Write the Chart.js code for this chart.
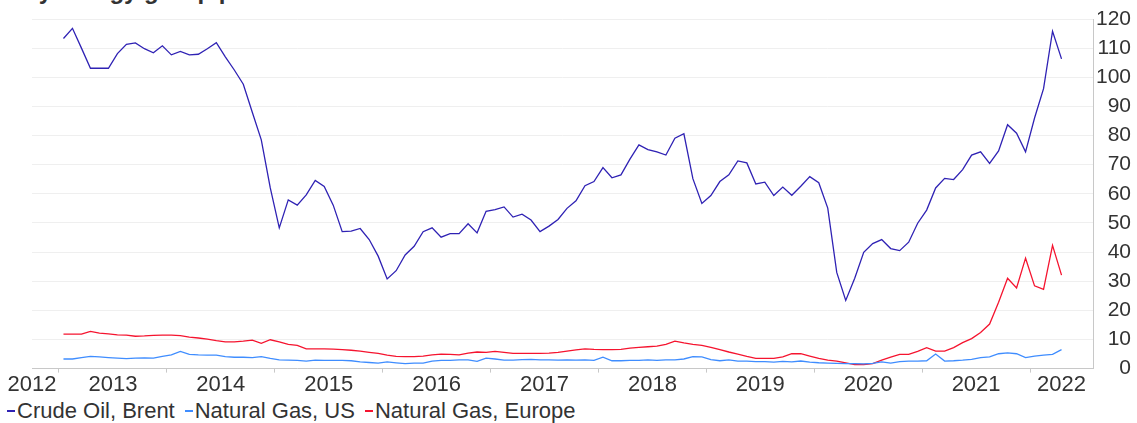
<!DOCTYPE html>
<html>
<head>
<meta charset="utf-8">
<script src="https://cdn.jsdelivr.net/npm/chart.js@4.4.1/dist/chart.umd.min.js"></script>
<style>
  html, body { margin: 0; padding: 0; background: #fff; }
  body { width: 1137px; height: 423px; position: relative; overflow: hidden; font-family: 'Liberation Sans', Arial, sans-serif; }
  #title { position: absolute; left: 8px; top: -21px; font-size: 24px; line-height: 24px; font-weight: bold; color: #333; white-space: nowrap; }
  #wrap { position: absolute; left: 0; top: 0; width: 1137px; height: 397px; }
  #legend { position: absolute; left: 7px; top: 400px; display: flex; font-size: 22px; line-height: 22px; color: #333; white-space: nowrap; }
  #legend .item { display: flex; align-items: center; margin-right: 10px; }
  #legend .dash { display: inline-block; width: 8px; height: 2px; margin-right: 2px; }
</style>
</head>
<body>
<div id="title">Key energy group prices</div>
<div id="wrap"><canvas id="chartEnergy"></canvas></div>
<div id="legend"></div>
<script>
'use strict';

// ---- Data: monthly averages, Jan 2013 - Apr 2022 ----------
const START_YEAR = 2013;

const yearLabels = ['2012', '2013', '2014', '2015', '2016', '2017', '2018', '2019', '2020', '2021', '2022'];

const brent = [
    113.3, 116.8, 110.0, 103.1, 103.1, 103.1, 108.1, 111.3, 111.8, 109.8, 108.4, 110.8,
    107.7, 108.9, 107.7, 107.9, 109.8, 111.9, 107.0, 102.5, 97.6, 88.0, 78.5, 62.0,
    48.3, 57.9, 56.1, 59.6, 64.6, 62.5, 56.1, 47.0, 47.2, 48.1, 44.3, 38.6,
    30.8, 33.6, 39.0, 42.0, 47.0, 48.3, 45.1, 46.3, 46.3, 49.7, 46.6, 54.0,
    54.6, 55.5, 52.0, 53.0, 51.0, 47.0, 48.9, 51.2, 55.0, 57.6, 62.8, 64.2,
    69.0, 65.5, 66.5, 71.9, 76.8, 75.2, 74.4, 73.3, 79.1, 80.6, 65.2, 56.7,
    59.4, 64.2, 66.5, 71.3, 70.6, 63.4, 64.0, 59.4, 62.3, 59.5, 62.6, 65.9,
    63.8, 55.1, 33.0, 23.4, 31.0, 39.9, 42.9, 44.3, 41.2, 40.5, 43.4, 49.9,
    54.4, 62.0, 65.3, 64.9, 68.3, 73.3, 74.4, 70.4, 74.7, 83.7, 80.8, 74.4,
    86.0, 96.1, 115.8, 106.3,
];

const gasUS = [
    3.3, 3.3, 3.8, 4.2, 4.0, 3.8, 3.6, 3.4, 3.6, 3.7, 3.6, 4.2,
    4.7, 5.9, 4.9, 4.7, 4.6, 4.6, 4.1, 3.9, 3.9, 3.8, 4.1, 3.5,
    3.0, 2.9, 2.8, 2.6, 2.9, 2.8, 2.8, 2.8, 2.7, 2.3, 2.1, 1.9,
    2.3, 2.0, 1.7, 1.9, 1.9, 2.6, 2.8, 2.8, 3.0, 3.0, 2.5, 3.6,
    3.3, 2.9, 2.9, 3.1, 3.2, 3.0, 3.0, 2.9, 3.0, 2.9, 3.0, 2.8,
    3.9, 2.7, 2.7, 2.8, 2.8, 3.0, 2.8, 3.0, 3.0, 3.3, 4.1, 4.0,
    3.1, 2.7, 3.0, 2.6, 2.6, 2.4, 2.4, 2.2, 2.5, 2.3, 2.6, 2.2,
    2.0, 1.9, 1.8, 1.7, 1.7, 1.6, 1.8, 2.3, 1.9, 2.4, 2.6, 2.6,
    2.7, 5.0, 2.6, 2.7, 2.9, 3.2, 3.8, 4.0, 5.1, 5.4, 5.1, 3.8,
    4.3, 4.6, 4.9, 6.5,
];

const gasEurope = [
    11.8, 11.8, 11.8, 12.8, 12.2, 11.9, 11.6, 11.5, 11.1, 11.2, 11.4, 11.5,
    11.5, 11.3, 10.8, 10.5, 10.1, 9.6, 9.2, 9.2, 9.4, 9.8, 8.7, 9.9,
    9.2, 8.3, 8.0, 6.8, 6.8, 6.8, 6.7, 6.5, 6.3, 6.0, 5.6, 5.2,
    4.6, 4.2, 4.1, 4.1, 4.3, 4.7, 5.0, 4.9, 4.7, 5.3, 5.7, 5.6,
    5.9, 5.6, 5.2, 5.2, 5.2, 5.2, 5.3, 5.6, 6.0, 6.4, 6.8, 6.6,
    6.5, 6.5, 6.6, 7.0, 7.3, 7.5, 7.7, 8.3, 9.4, 8.8, 8.3, 8.0,
    7.3, 6.5, 5.7, 5.0, 4.2, 3.5, 3.5, 3.5, 4.0, 5.1, 5.1, 4.3,
    3.5, 2.9, 2.6, 2.0, 1.4, 1.4, 1.7, 2.9, 3.9, 4.9, 4.9, 5.9,
    7.2, 6.0, 6.0, 7.2, 8.9, 10.3, 12.4, 15.3, 22.8, 31.0, 27.7, 37.9,
    28.4, 27.2, 42.3, 32.1,
];

const COLORS = { brent: '#2f22b4', gasUS: '#3f8dff', gasEurope: '#f5142f' };
const FONT = "'Liberation Sans', Arial, sans-serif";

// x axis runs in months since Jan 2013 (value 0 = 1 Jan 2013)
const X_MIN = -3;
const X_MAX = 115;

// each monthly value sits in the middle of its month
function toPoints(values) {
    return values.map((v, i) => ({ x: i + 0.5, y: v }));
}

// year boundaries that fall inside the axis -> tick marks
function yearBoundaries() {
    const out = [];
    for (let m = 0; m <= X_MAX; m += 12) out.push({ value: m });
    return out;
}

// year labels centred on the visible part of each year
function yearLabelTicks() {
    return yearLabels.map((y, i) => {
        const start = (parseInt(y) - START_YEAR) * 12;
        if (i === 0) return { value: X_MIN };
        const a = Math.max(start, X_MIN), b = Math.min(start + 12, X_MAX);
        return { value: (a + b) / 2 };
    });
}

const ctx = document.getElementById('chartEnergy');

const chart = new Chart(ctx, {
    type: 'line',
    data: {
        datasets: [
            { label: 'Crude Oil, Brent', data: toPoints(brent), borderColor: COLORS.brent },
            { label: 'Natural Gas, US', data: toPoints(gasUS), borderColor: COLORS.gasUS },
            { label: 'Natural Gas, Europe', data: toPoints(gasEurope), borderColor: COLORS.gasEurope },
        ].map(d => ({ ...d, borderWidth: 1.3, pointRadius: 0, tension: 0, fill: false })),
    },
    options: {
        responsive: true,
        maintainAspectRatio: false,
        animation: false,
        layout: { padding: { left: 32, right: 6, top: 19, bottom: 0 } },
        plugins: {
            legend: { display: false },
            tooltip: { enabled: false },
        },
        scales: {
            x: {
                type: 'linear',
                min: X_MIN,
                max: X_MAX,
                grid: { drawOnChartArea: false, drawTicks: true, tickLength: 4, color: '#c8c8c8' },
                border: { color: '#c8c8c8' },
                ticks: { display: false },
                afterBuildTicks: axis => { axis.ticks = yearBoundaries(); },
            },
            xYears: {
                type: 'linear',
                position: 'bottom',
                weight: 1,
                min: X_MIN,
                max: X_MAX,
                grid: { display: false, drawTicks: false, tickLength: 0 },
                border: { display: false },
                ticks: {
                    autoSkip: false,
                    maxRotation: 0,
                    padding: -1,
                    color: '#333',
                    font: { family: FONT, size: 22 },
                    callback: (v, i) => yearLabels[i],
                },
                afterBuildTicks: axis => { axis.ticks = yearLabelTicks(); },
            },
            y: {
                position: 'right',
                min: 0,
                max: 120,
                grid: { color: '#efefef', drawTicks: false },
                border: { color: '#c8c8c8' },
                ticks: {
                    stepSize: 10,
                    crossAlign: 'far',
                    padding: 0,
                    color: '#333',
                    font: { family: FONT, size: 21 },
                },
                afterFit: axis => { axis.width = 38; },
            },
        },
    },
});

// ---- HTML legend -----------------------------------------
const legendEl = document.getElementById('legend');
chart.data.datasets.forEach(ds => {
    const item = document.createElement('span');
    item.className = 'item';
    const dash = document.createElement('span');
    dash.className = 'dash';
    dash.style.background = ds.borderColor;
    item.appendChild(dash);
    item.appendChild(document.createTextNode(ds.label));
    legendEl.appendChild(item);
});
</script>
</body>
</html>
